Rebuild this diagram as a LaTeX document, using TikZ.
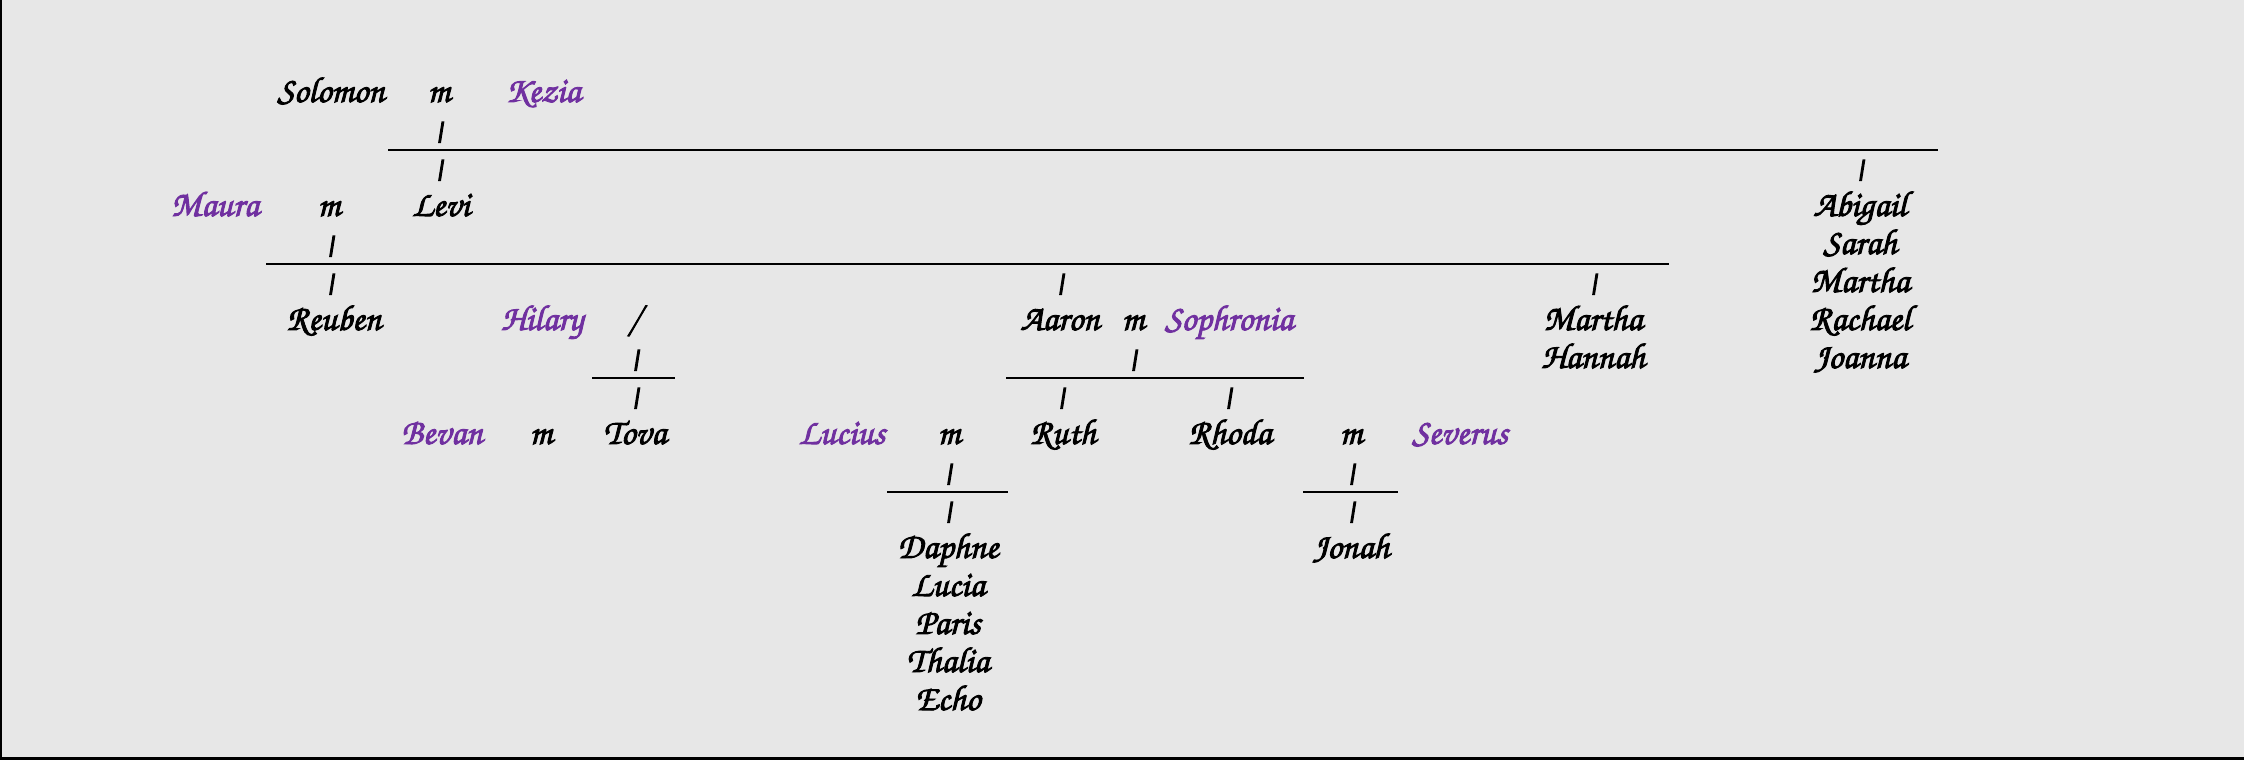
\documentclass[tikz,border=0pt]{standalone}
\usepackage[T1]{fontenc}
\usetikzlibrary{positioning}
\definecolor{paper}{RGB}{231,231,231}
\definecolor{inlaw}{RGB}{112,48,160}
\newcommand\chancery[1]{\fontencoding{T1}\fontfamily{pzc}\fontseries{mb}\fontshape{it}\fontsize{#1}{#1}\selectfont}
\tikzset{
  fat/.style={
    execute at begin node={\special{pdf:literal direct 2 Tr #1 w}},
    execute at end node={\special{pdf:literal direct 0 Tr 0.4 w}}},
  kin/.style={font=\chancery{36},text=black,inner sep=0pt,anchor=base,yshift=-9pt,fat=0.9},
  inlaw/.style={kin,text=inlaw},
  bar/.style={font=\chancery{28},inner sep=0pt,yshift=-1.5pt,xslant=0.16,transform shape,fat=1.5},
  rule/.style={line width=2pt},
}
\begin{document}
\begin{tikzpicture}[x=1pt,y=-1pt]
  \fill[paper] (0,0) rectangle (2244,760);
  \useasboundingbox (0,0) rectangle (2244,760);
  \draw[line width=2pt] (1,0) -- (1,760);
  \draw[line width=3pt] (0,758.5) -- (2244,758.5);
  % Solomon and Kezia
  \node[kin] (solomon) at (331,93) {Solomon};
  \node[kin] (m1) at (439,93) {m};
  \node[inlaw] (kezia) at (543,93) {Kezia};
  \node[bar] (b1) at (439,131) {|};
  \coordinate (g1w) at (388,150);
  \coordinate (g1e) at (1938,150);
  \draw[rule] (g1w) -- (g1e);
  \node[bar] (b2) at (439,169) {|};
  \node[bar] (b3) at (1860,169) {|};
  \foreach \t [count=\i from 0] in {Abigail,Sarah,Martha,Rachael,Joanna}
    \node[kin] (d\i) at (1860,207+38*\i) {\t};
  % Levi and Maura
  \node[inlaw] (maura) at (215,207) {Maura};
  \node[kin] (m2) at (329,207) {m};
  \node[kin] (levi) at (441,207) {Levi};
  \node[bar] (b4) at (330,245) {|};
  \coordinate (g2w) at (266,264);
  \coordinate (g2e) at (1669,264);
  \draw[rule] (g2w) -- (g2e);
  \foreach \x/\n in {330/b5,1060/b6,1593/b7}
    \node[bar] (\n) at (\x,283) {|};
  \node[kin] (reuben) at (334,321) {Reuben};
  \node[inlaw] (hilary) at (542,321) {Hilary};
  \node[kin] (sl) at (634,321) {/};
  \node[kin] (aaron) at (1060,321) {Aaron};
  \node[kin] (m3) at (1133,321) {m};
  \node[inlaw] (sophronia) at (1229,321) {Sophronia};
  \node[kin] (martha) at (1593,321) {Martha};
  \node[kin] (hannah) at (1593,359) {Hannah};
  % Tova and Bevan
  \node[bar] (b8) at (635,359) {|};
  \coordinate (g3w) at (592,378);
  \coordinate (g3e) at (675,378);
  \draw[rule] (g3w) -- (g3e);
  \node[bar] (b9) at (635,397) {|};
  \node[inlaw] (bevan) at (442,435) {Bevan};
  \node[kin] (m4) at (541,435) {m};
  \node[kin] (tova) at (635,435) {Tova};
  % Aaron and Sophronia
  \node[bar] (b10) at (1133,359) {|};
  \coordinate (g4w) at (1006,378);
  \coordinate (g4e) at (1304,378);
  \draw[rule] (g4w) -- (g4e);
  \node[bar] (b11) at (1061,397) {|};
  \node[bar] (b12) at (1228,397) {|};
  \node[inlaw] (lucius) at (842,435) {Lucius};
  \node[kin] (m5) at (949,435) {m};
  \node[kin] (ruth) at (1063,435) {Ruth};
  \node[kin] (rhoda) at (1230,435) {Rhoda};
  \node[kin] (m6) at (1351,435) {m};
  \node[inlaw] (severus) at (1460,435) {Severus};
  % Ruth and Lucius
  \node[bar] (b13) at (948,473) {|};
  \coordinate (g5w) at (887,492);
  \coordinate (g5e) at (1008,492);
  \draw[rule] (g5w) -- (g5e);
  \node[bar] (b14) at (948,511) {|};
  \foreach \t [count=\i from 0] in {Daphne,Lucia,Paris,Thalia,Echo}
    \node[kin] (e\i) at (948,549+38*\i) {\t};
  % Rhoda and Severus
  \node[bar] (b15) at (1351,473) {|};
  \coordinate (g6w) at (1303,492);
  \coordinate (g6e) at (1398,492);
  \draw[rule] (g6w) -- (g6e);
  \node[bar] (b16) at (1351,511) {|};
  \node[kin] (jonah) at (1351,549) {Jonah};
\end{tikzpicture}
\end{document}
